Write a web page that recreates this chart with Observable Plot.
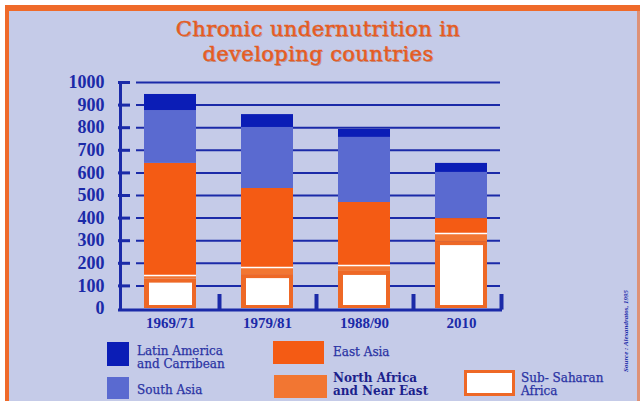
<!DOCTYPE html>
<html>
<head>
<meta charset="utf-8">
<script src="https://cdn.jsdelivr.net/npm/d3@7"></script>
<script src="https://cdn.jsdelivr.net/npm/@observablehq/plot@0.6"></script>
<style>
  html, body { margin: 0; padding: 0; background: #ffffff; }
  #page { position: relative; width: 640px; height: 401px; overflow: hidden; background: #c5cbe8; }
  .edge { position: absolute; background: #ef6a2a; }
  .white { position: absolute; background: #ffffff; }
  .title { position: absolute; left: 0; width: 636px; text-align: center;
    font-family: "DejaVu Serif", serif; font-size: 21px; letter-spacing: 0.4px; line-height: 25px; height: 25px; color: #e65c22;
    -webkit-text-stroke: 0.45px #e65c22;
    text-shadow: 1px 1px 0 rgba(130, 50, 10, 0.35); white-space: nowrap; }
  #chart { position: absolute; left: 0; top: 0; }
  .sw { position: absolute; box-sizing: border-box; }
  .lt { position: absolute; font-family: "DejaVu Serif", serif; font-size: 12px; line-height: 13px; color: #2a33a4; white-space: nowrap;
    -webkit-text-stroke: 0.25px #2a33a4; }
  #source { position: absolute; left: 584px; top: 327px; width: 84px; transform: rotate(-90deg); transform-origin: 42px 4px;
    font-family: "Liberation Serif", serif; font-style: italic; font-weight: bold; font-size: 7px; color: #1a2aa8; white-space: nowrap; text-align: center; }
</style>
</head>
<body>
<div id="page">
  <div class="white" style="left:0;top:0;width:640px;height:5px"></div>
  <div class="white" style="left:0;top:0;width:5px;height:401px"></div>
  <div class="edge" style="left:5px;top:5px;width:635px;height:6px"></div>
  <div class="edge" style="left:5px;top:5px;width:4px;height:396px"></div>
  <div class="edge" style="left:637px;top:11px;width:3px;height:390px;opacity:0.6"></div>
  <div class="title" style="top:17px">Chronic undernutrition in</div>
  <div class="title" style="top:42px">developing countries</div>
  <div id="chart"></div>
  <div id="legend"></div>
  <div id="source">Source : Alexandratos, 1995</div>
</div>
<script>
// ---- data (millions of people) ----
const years = ["1969/71", "1979/81", "1988/90", "2010"];
const regions = ["Sub- Saharan Africa", "North Africa and Near East", "East Asia", "South Asia", "Latin America and Carribean"];
const subSaharan   = [130, 150, 164, 296];
const northAfrica  = [16, 31, 26, 36];
const eastAsia     = [496, 350, 279, 66];
const southAsia    = [234, 270, 288, 204];
const latinAmerica = [71, 57, 35, 40];
const yTicks = [0, 100, 200, 300, 400, 500, 600, 700, 800, 900, 1000];

const regionColors = ["#ee6826", "#f27632", "#f45b14", "#5a6ad0", "#0b1db6"];
const blue = "#1b2aa8";

const series = [subSaharan, northAfrica, eastAsia, southAsia, latinAmerica];
const table = [];
years.forEach((year, i) => regions.forEach((region, j) => table.push({year, region, value: series[j][i]})));
const ssaRows = years.map((year, i) => ({year, value: subSaharan[i]}));
const sepRows = years.map((year, i) => ({year, value: subSaharan[i] + northAfrica[i]}));
const grid = yTicks.filter(d => d > 0);

const chart = Plot.plot({
  width: 640,
  height: 335,
  marginTop: 82,
  marginBottom: 27,
  marginLeft: 118,
  marginRight: 138,
  style: {background: "transparent", color: blue, fontFamily: "Liberation Serif, serif", overflow: "visible"},
  x: {domain: years, range: [119, 511], paddingInner: 0.469, paddingOuter: 0.2347, align: 0.5},
  y: {domain: [0, 1000]},
  color: {domain: regions, range: regionColors},
  marks: [
    Plot.ruleY(grid, {insetLeft: 18, insetRight: 2, stroke: blue, strokeWidth: 2}),
    Plot.ruleY(grid, {insetRight: 372, stroke: blue, strokeWidth: 3}),
    Plot.barY(table, {x: "year", y: "value", fill: "region", order: regions}),
    Plot.barY(ssaRows, {x: "year", y: "value", fill: "#ffffff", insetLeft: 5, insetRight: 4, insetTop: 4, insetBottom: 3}),
    Plot.tickY(sepRows, {x: "year", y: "value", stroke: "#ffffff", strokeWidth: 1.5}),
    Plot.ruleY([0], {stroke: blue, strokeWidth: 3, dy: 1.5}),
    Plot.ruleX(years.slice(0, 1), {y1: -7, y2: 1000, dx: -50, stroke: blue, strokeWidth: 3}),
    Plot.ruleX(years.slice(0, 3), {y1: -7, y2: 62, dx: 49, stroke: blue, strokeWidth: 4}),
    Plot.ruleX(years.slice(3), {y1: -7, y2: 62, dx: 40, stroke: blue, strokeWidth: 4}),
    Plot.axisY(yTicks, {tickSize: 0, tickPadding: 14, fontSize: 18, fontWeight: "bold", label: null, tickFormat: d3.format("d")}),
    Plot.axisX({tickSize: 0, tickPadding: 9, fontSize: 15, fontWeight: "bold", label: null})
  ]
});
document.getElementById("chart").appendChild(chart);

// ---- legend ----
const legendItems = [
  {i: 4, x: 107, y: 342, w: 22, h: 24, tx: 137, ty: 345, lines: ["Latin America", "and Carribean"], bold: false},
  {i: 3, x: 107, y: 377, w: 22, h: 22, tx: 137, ty: 384, lines: ["South Asia"], bold: false},
  {i: 2, x: 273, y: 341, w: 51, h: 23, tx: 333, ty: 346, lines: ["East Asia"], bold: false},
  {i: 1, x: 274, y: 375, w: 53, h: 23, tx: 333, ty: 372, lines: ["North Africa", "and Near East"], bold: true},
  {i: 0, x: 464, y: 370, w: 51, h: 26, tx: 521, ty: 372, lines: ["Sub- Saharan", "Africa"], bold: false}
];
const legend = document.getElementById("legend");
legendItems.forEach(item => {
  const sw = document.createElement("div");
  sw.className = "sw";
  Object.assign(sw.style, {left: item.x + "px", top: item.y + "px", width: item.w + "px", height: item.h + "px"});
  if (item.i === 0) {
    sw.style.background = "#ffffff";
    sw.style.border = "3px solid " + regionColors[0];
  } else {
    sw.style.background = regionColors[item.i];
  }
  legend.appendChild(sw);
  const t = document.createElement("div");
  t.className = "lt";
  Object.assign(t.style, {left: item.tx + "px", top: item.ty + "px"});
  if (item.bold) { t.style.fontWeight = "bold"; t.style.color = "#1c1f8c"; t.style.webkitTextStroke = "0px"; }
  t.innerHTML = item.lines.join("<br>");
  legend.appendChild(t);
});
</script>
</body>
</html>
